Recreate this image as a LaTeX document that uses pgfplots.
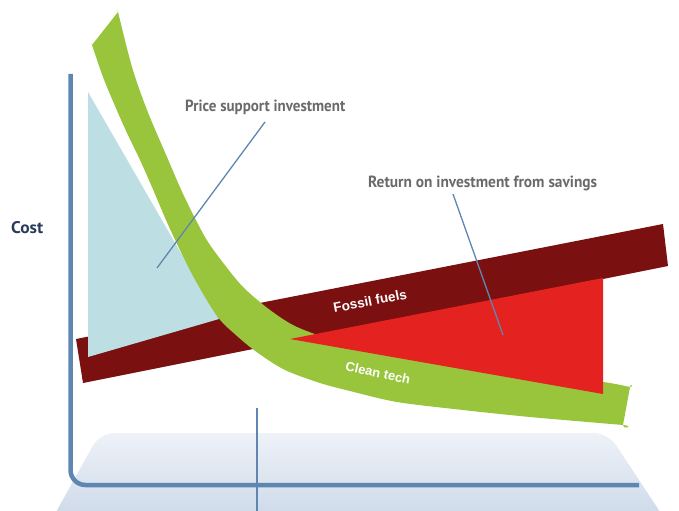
\documentclass[border=0pt]{standalone}
\usepackage{pgfplots}
\pgfplotsset{compat=1.18}
\usepackage{fontspec}
\setmainfont{Liberation Sans}
\newfontfamily\ptsans{PT Sans}

\definecolor{platTop}{HTML}{EEF2F8}
\definecolor{platBot}{HTML}{C9D6E7}
\definecolor{axisBlue}{HTML}{5F86B1}
\definecolor{fossil}{HTML}{7A1010}
\definecolor{lblue}{HTML}{BDDFE3}
\definecolor{cleangreen}{HTML}{98C53C}
\definecolor{ared}{HTML}{E42320}
\definecolor{lgray}{HTML}{6A6A6A}
\definecolor{navy}{HTML}{2A3B5C}

\begin{document}
\begin{tikzpicture}
\begin{axis}[
    width=679bp, height=511bp, scale only axis,
    xmin=0, xmax=679, ymin=0, ymax=511,
    y dir=reverse,  % pixel coordinates, origin top left
    hide axis,
]
% keeps the full frame
\addplot[draw=none] coordinates {(0,0) (679,511)};

% base platform
\addplot[draw=none, top color=platTop, bottom color=platBot, rounded corners=14bp]
    coordinates {(46,530) (100,433) (608,433) (672,530)} -- cycle;

% marker line and axes
\addplot[color=axisBlue, line width=1.4bp] coordinates {(257,408) (257,511)};
\addplot[color=axisBlue, line width=4.5bp, rounded corners=15bp]
    coordinates {(70.5,74) (70.5,485) (639,485)};

% fossil fuels band
\addplot[fill=fossil, draw=none]
    coordinates {(76,339) (663,224) (668,266) (83,383)} -- cycle;

% price support investment
\addplot[fill=lblue, draw=none]
    coordinates {(88,92) (219,319) (88,357)} -- cycle;

% clean tech band (corner points doubled to keep the caps sharp)
\addplot[fill=cleangreen, draw=none, smooth, tension=0.5] coordinates {
    (118,12) (118,12) (132,67) (147,110) (167,157) (184,196) (205,237)
    (221,260) (243,287) (270,310) (297,327) (340,342) (400,354) (460,364)
    (530,374) (603,382) (630,387) (630,387)
    (623,425) (623,425) (530,417) (463,410) (397,402) (350,391) (320,383)
    (285,370) (258,353) (237,336) (217,316) (193,276) (170,229) (152,187)
    (140,160) (127,133) (115,106) (103,77) (92,45) (92,45)
} -- cycle;

% return on investment
\addplot[fill=ared, draw=none]
    coordinates {(290,339) (603,278) (603,394)} -- cycle;

% leader lines
\addplot[color=axisBlue, line width=1.3bp] coordinates {(265,122) (157,268)};
\addplot[color=axisBlue, line width=1.3bp] coordinates {(453,194) (503,335)};

% labels
\node[anchor=base west, inner sep=0, text=lgray] at (axis cs:185,112)
    {\resizebox{160bp}{11.5bp}{\ptsans\bfseries Price support investment}};
\node[anchor=base west, inner sep=0, text=lgray] at (axis cs:368,187)
    {\resizebox{229bp}{11.5bp}{\ptsans\bfseries Return on investment from savings}};
\node[anchor=base west, inner sep=0, text=navy] at (axis cs:11,233)
    {\resizebox{32bp}{12bp}{\ptsans\bfseries Cost}};
\node[rotate=11, text=white, font=\bfseries\fontsize{13.5bp}{15bp}\selectfont]
    at (axis cs:370,301) {Fossil fuels};
\node[rotate=-12, text=white, font=\bfseries\fontsize{13bp}{15bp}\selectfont]
    at (axis cs:378,373) {Clean tech};
\end{axis}
\end{tikzpicture}
\end{document}
